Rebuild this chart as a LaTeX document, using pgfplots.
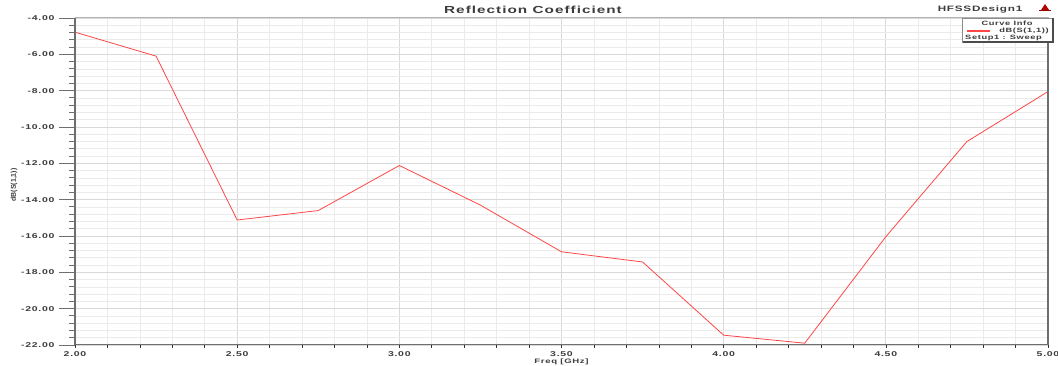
\documentclass[border=0pt]{standalone}
\usepackage{pgfplots}
\pgfplotsset{compat=1.18}
\usepackage{fontspec}
\setmainfont{Liberation Sans}
\newfontfamily\hf[FakeStretch=1.5,LetterSpace=10]{Liberation Sans}
\definecolor{curve}{RGB}{255,70,70}
\definecolor{axdark}{RGB}{110,110,110}
\definecolor{txt}{RGB}{60,60,60}
\pgfplotstableread{
f s11
2.00 -4.78
2.25 -6.10
2.50 -15.12
2.75 -14.60
3.00 -12.12
3.25 -14.30
3.50 -16.87
3.75 -17.43
4.00 -21.46
4.25 -21.90
4.50 -16.04
4.75 -10.80
5.00 -8.05
}\datatable
\begin{document}
\begin{tikzpicture}
\useasboundingbox (-75pt,-21pt) rectangle (983pt,345pt);
\begin{axis}[
  at={(0pt,0pt)}, anchor=south west,
  scale only axis, width=973pt, height=327pt,
  xmin=2, xmax=5, ymin=-22, ymax=-4,
  xtick={2,2.5,3,3.5,4,4.5,5},
  xticklabels={2.00,2.50,3.00,3.50,4.00,4.50,5.00},
  ytick={-22,-20,-18,-16,-14,-12,-10,-8,-6,-4},
  yticklabels={-22.00,-20.00,-18.00,-16.00,-14.00,-12.00,-10.00,-8.00,-6.00,-4.00},
  minor x tick num=4, minor y tick num=4,
  xtick pos=bottom, ytick pos=left,
  grid=both,
  major grid style={draw=black!15, line width=0.9pt},
  minor grid style={draw=black!8, line width=0.6pt},
  tick align=outside,
  major tick length=16pt, minor tick length=6pt,
  y tick style={draw=axdark, line width=0.6pt},
  minor y tick style={line width=1pt},
  x tick style={draw=black!80, line width=0.6pt, /pgfplots/major tick length=3pt, /pgfplots/minor tick length=3pt},
  ticklabel style={font=\hf\bfseries\fontsize{7}{8}\selectfont, text=txt},
  yticklabel style={anchor=east, xshift=-1pt},
  xticklabel style={anchor=center, yshift=7pt, inner sep=0pt},
  axis line style={draw=black!30, line width=1pt},
  clip=false,
]
\addplot[color=curve, line width=0.8pt] table[x=f, y=s11] {\datatable};
\draw[axdark, line width=1.4pt] (rel axis cs:0,0) -- (rel axis cs:0,1);
\draw[axdark, line width=1pt] (rel axis cs:0,0) -- (rel axis cs:1,0);
\draw[axdark, line width=1.2pt] (rel axis cs:1,0) -- (rel axis cs:1,1);
\end{axis}
% title and texts
\node[font=\hf\bfseries\fontsize{10.2}{12}\selectfont, text=txt] at (458pt,335pt) {Reflection Coefficient};
\node[font=\hf\bfseries\fontsize{7.8}{9}\selectfont, text=txt] at (905pt,335pt) {HFSSDesign1};
\fill[red!70!black] (970pt,341pt) -- (966pt,335pt) -- (974pt,335pt) -- cycle;
\fill[red!60!black] (964pt,333.5pt) rectangle (976pt,334.5pt);
% legend box
\fill[white] (887pt,303pt) rectangle (978pt,327pt);
\draw[black!45, line width=0.6pt] (887pt,303pt) rectangle (978pt,327pt);
\draw[black!70, line width=1.2pt] (978pt,327pt) -- (978pt,303pt) -- (888pt,303pt);
\node[font=\hf\bfseries\fontsize{6.2}{7}\selectfont, text=txt] at (932pt,321.5pt) {Curve Info};
\draw[curve, line width=1.1pt] (892pt,314pt) -- (915pt,314pt);
\node[font=\hf\bfseries\fontsize{6.2}{7}\selectfont, text=txt, anchor=east, inner sep=0pt] at (974pt,314pt) {dB(S(1,1))};
\node[font=\hf\bfseries\fontsize{6.2}{7}\selectfont, text=txt, anchor=west, inner sep=0pt] at (890pt,307pt) {Setup1 : Sweep};
% axis labels
\node[font=\hf\bfseries\fontsize{6.4}{7}\selectfont, text=txt, inner sep=0pt] at (486.5pt,-16.5pt) {Freq [GHz]};
\node[font=\bfseries\fontsize{7}{8}\selectfont, text=txt, rotate=90] at (-61pt,160pt) {dB(S(1,1))};
\end{tikzpicture}
\end{document}
